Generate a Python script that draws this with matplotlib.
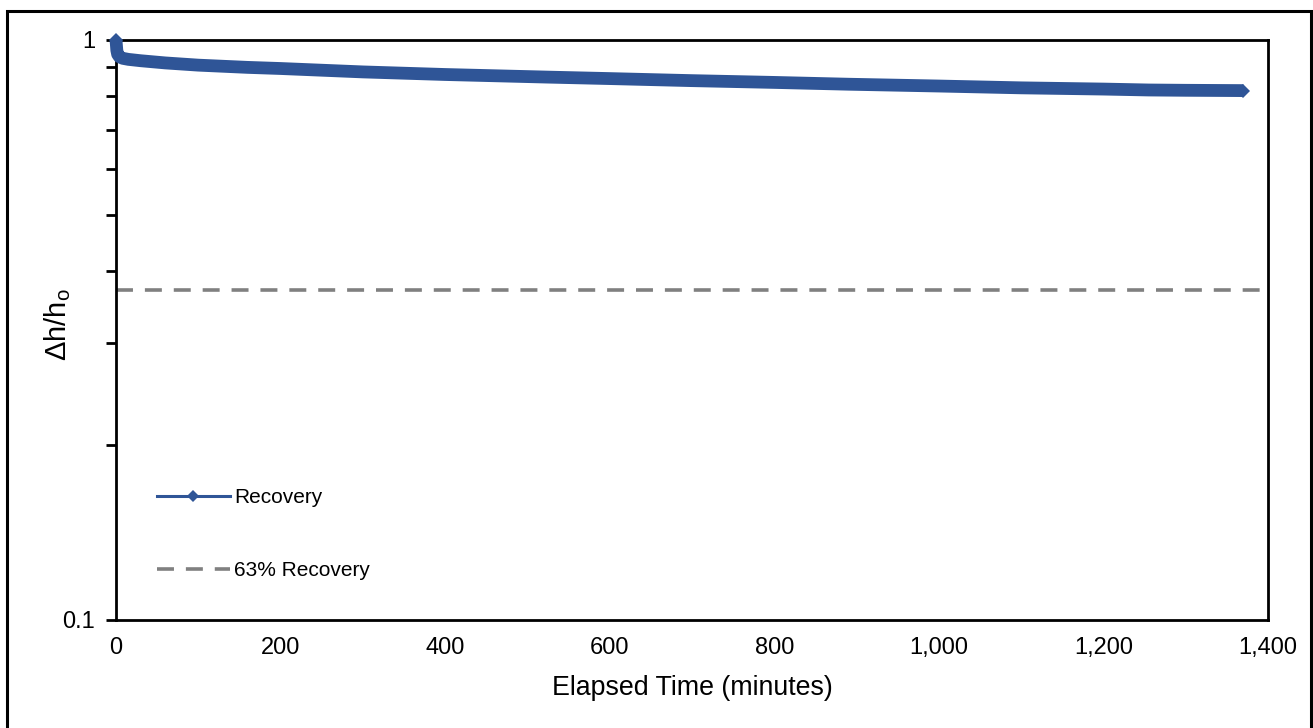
import matplotlib
matplotlib.use("Agg")
import matplotlib.pyplot as plt
from matplotlib.lines import Line2D
from matplotlib.patches import Rectangle
from matplotlib.ticker import FixedLocator, FuncFormatter, NullFormatter

plt.rcParams['font.family'] = ['Liberation Sans', 'DejaVu Sans']
plt.rcParams['mathtext.fontset'] = 'custom'
plt.rcParams['mathtext.rm'] = 'Liberation Sans'

# Slug-test recovery record: elapsed time (minutes) vs normalised head
time_min = [0, 0.5, 1, 2, 4, 8, 15, 30, 60, 100, 160, 200, 300, 400, 525,
            600, 700, 800, 890, 1000, 1100, 1200, 1255, 1300, 1370]
dh_ratio = [1.000, 0.980, 0.960, 0.945, 0.936, 0.930, 0.926, 0.921, 0.913,
            0.905, 0.897, 0.893, 0.881, 0.872, 0.863, 0.858, 0.851, 0.845,
            0.839, 0.833, 0.827, 0.823, 0.820, 0.819, 0.818]

# 63% recovery reference (1 - 0.63 of the initial displacement)
ref_x = [0, 1400]
ref_y = [0.37, 0.37]

x_ticks = [0, 200, 400, 600, 800, 1000, 1200, 1400]
y_major = [0.1, 1]
y_minor = [0.2, 0.3, 0.4, 0.5, 0.6, 0.7, 0.8, 0.9]

blue = '#2F5597'
grey = '#808080'
dash = (0, (4.7, 3.3))

fig = plt.figure(figsize=(13.13, 7.28), dpi=100)
ax = fig.add_axes([116 / 1313, 1 - 620 / 728, 1152 / 1313, 580 / 728])

ax.plot(ref_x, ref_y, color=grey, lw=2.6, linestyle=dash,
        dash_capstyle='butt', zorder=2)
ax.plot(time_min, dh_ratio, color=blue, lw=9.2, solid_capstyle='butt',
        solid_joinstyle='round', marker='D', markersize=7.5,
        markevery=[0, len(time_min) - 1], markeredgewidth=0, zorder=3,
        clip_on=False)

ax.set_yscale('log')
ax.set_xlim(0, 1400)
ax.set_ylim(0.1, 1)

ax.xaxis.set_major_locator(FixedLocator(x_ticks))
ax.xaxis.set_major_formatter(FuncFormatter(lambda v, p: f'{int(v):,}'))
ax.tick_params(axis='x', length=0, pad=12, labelsize=17)

ax.yaxis.set_major_locator(FixedLocator(y_major))
ax.yaxis.set_minor_locator(FixedLocator(y_minor))
ax.yaxis.set_major_formatter(FuncFormatter(lambda v, p: '1' if v >= 1 else '0.1'))
ax.yaxis.set_minor_formatter(NullFormatter())
ax.tick_params(axis='y', which='both', direction='out', length=7, width=2,
               labelsize=17, pad=8)

for s in ax.spines.values():
    s.set_linewidth(2)
    s.set_color('black')

ax.set_xlabel('Elapsed Time (minutes)', fontsize=19.3, labelpad=12)
ax.set_ylabel(r'$\Delta$h/h$_\mathregular{o}$', fontsize=21)
ax.yaxis.set_label_coords(-0.037, 0.51)

handles = [
    Line2D([], [], color=blue, lw=2.2, marker='D', markersize=6.5, markeredgewidth=0),
    Line2D([], [], color=grey, lw=2.6, linestyle=dash, dash_capstyle='butt'),
]
ax.legend(handles, ['Recovery', '63% Recovery'], loc='center left',
          bbox_to_anchor=(41 / 1152, 0.1483), frameon=False, fontsize=15,
          handlelength=3.5, handletextpad=0.2, labelspacing=2.6,
          borderpad=0, borderaxespad=0)

fig.patches.append(Rectangle((7 / 1313, -0.05), 1304 / 1313, 1.05 - 11 / 728,
                             transform=fig.transFigure, fill=False,
                             edgecolor='black', linewidth=2.2))

fig.savefig('out.png', dpi=100)
